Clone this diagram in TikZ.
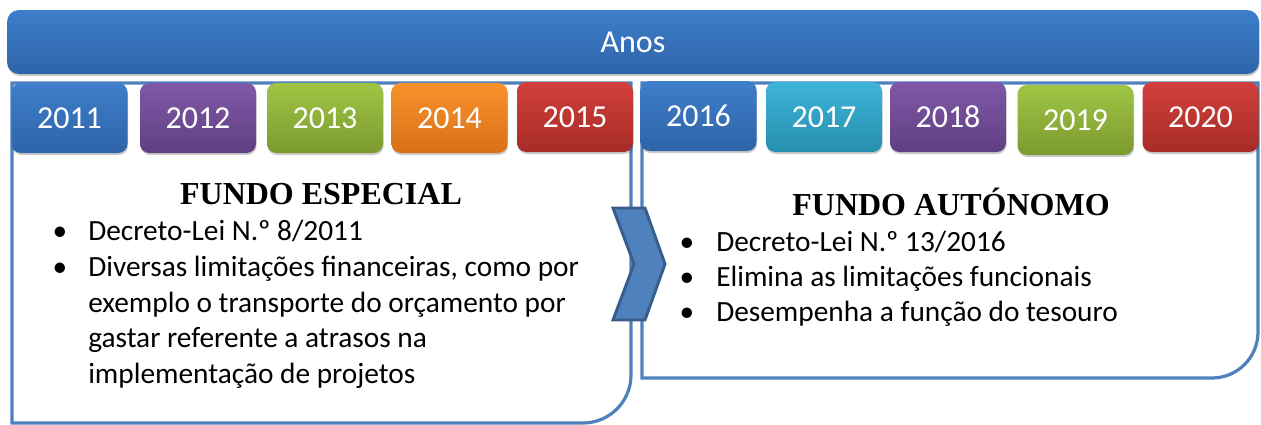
\documentclass[tikz,border=0pt]{standalone}
\usepackage{fontspec}
\setmainfont{Carlito}
\newfontfamily\serifb{Liberation Serif}
\usetikzlibrary{shadows}
\definecolor{panelc}{HTML}{4F81BD}
\definecolor{chevf}{HTML}{4F81BD}
\definecolor{chevd}{HTML}{385D8A}
\definecolor{blueT}{HTML}{3E7ECB}\definecolor{blueB}{HTML}{2E64A8}
\definecolor{purT}{HTML}{8058A8}\definecolor{purB}{HTML}{5F4081}
\definecolor{grnT}{HTML}{A0C544}\definecolor{grnB}{HTML}{7B9A30}
\definecolor{orgT}{HTML}{F9922C}\definecolor{orgB}{HTML}{DA6F18}
\definecolor{redT}{HTML}{D2403B}\definecolor{redB}{HTML}{A72B27}
\definecolor{cyaT}{HTML}{3EB4DA}\definecolor{cyaB}{HTML}{268FAD}
\begin{document}
\begin{tikzpicture}[x=0.75pt,y=-0.75pt,
  panel/.style={draw=panelc, line width=2.4pt, fill=white},
  yr/.style 2 args={rounded corners=7pt, minimum width=87pt, minimum height=52.5pt,
    inner sep=0pt, text=white, top color=#1, bottom color=#2,
    font=\fontsize{24}{24}\selectfont,
    drop shadow={shadow xshift=0.5pt, shadow yshift=-1.5pt, fill=black, opacity=0.2}},
  title/.style={anchor=base, inner sep=0pt, font=\serifb\bfseries\fontsize{24}{24}\selectfont},
  txt/.style={anchor=base west, inner sep=0pt, font=\fontsize{22}{24}\selectfont},
  bul/.style={anchor=base, inner sep=0pt, font=\fontsize{22}{24}\selectfont},
  chev/.style={fill=chevf, draw=chevd, line width=2.2pt, line join=miter}]
\useasboundingbox (0,0) rectangle (1261,425);

% panels
\draw[panel] (12,83) -- (631,83) -- (631,375) arc[start angle=0,end angle=90,radius=48] -- (12,423) -- cycle;
\draw[panel] (642,83) -- (1258,83) -- (1258,332) arc[start angle=0,end angle=90,radius=46] -- (642,378) -- cycle;

% Anos bar
\node[rounded corners=9pt, minimum width=939pt, minimum height=48pt, inner sep=0pt,
  top color=blueT, bottom color=blueB, text=white, font=\fontsize{24}{24}\selectfont,
  drop shadow={shadow xshift=0.5pt, shadow yshift=-1.5pt, fill=black, opacity=0.2}]
  (anos) at (633,42) {Anos};

% years
\node[yr={blueT}{blueB}] (y2011) at (69.5,118) {2011};
\node[yr={purT}{purB}]   (y2012) at (198,118) {2012};
\node[yr={grnT}{grnB}]   (y2013) at (325,118) {2013};
\node[yr={orgT}{orgB}]   (y2014) at (449.5,118) {2014};
\node[yr={redT}{redB}]   (y2015) at (575,117) {2015};
\node[yr={blueT}{blueB}] (y2016) at (698.5,116) {2016};
\node[yr={cyaT}{cyaB}]   (y2017) at (824,117) {2017};
\node[yr={purT}{purB}]   (y2018) at (948,117) {2018};
\node[yr={grnT}{grnB}]   (y2019) at (1075.5,120) {2019};
\node[yr={redT}{redB}]   (y2020) at (1200.5,117) {2020};

% left panel text
\node[title] (t1) at (321,204) {FUNDO ESPECIAL};
\node[bul] (b11) at (60,240) {\textbullet};
\node[txt] (l11) at (88,240) {Decreto-Lei N.º 8/2011};
\node[bul] (b12) at (60,276) {\textbullet};
\node[txt] (l12) at (88,276) {Diversas limitações financeiras, como por};
\node[txt] (l13) at (88,312) {exemplo o transporte do orçamento por};
\node[txt] (l14) at (88,347) {gastar referente a atrasos na};
\node[txt] (l15) at (88,383) {implementação de projetos};

% right panel text
\node[title] (t2) at (951,215) {FUNDO AUTÓNOMO};
\node[bul] (b21) at (687,251) {\textbullet};
\node[txt] (l21) at (716,251) {Decreto-Lei N.º 13/2016};
\node[bul] (b22) at (687,286) {\textbullet};
\node[txt] (l22) at (716,286) {Elimina as limitações funcionais};
\node[bul] (b23) at (687,321) {\textbullet};
\node[txt] (l23) at (716,321) {Desempenha a função do tesouro};

% chevron
\draw[chev] (613,208) -- (645,208) -- (665,264) -- (645,320) -- (613,320) -- (634,264) -- cycle;
\end{tikzpicture}
\end{document}
